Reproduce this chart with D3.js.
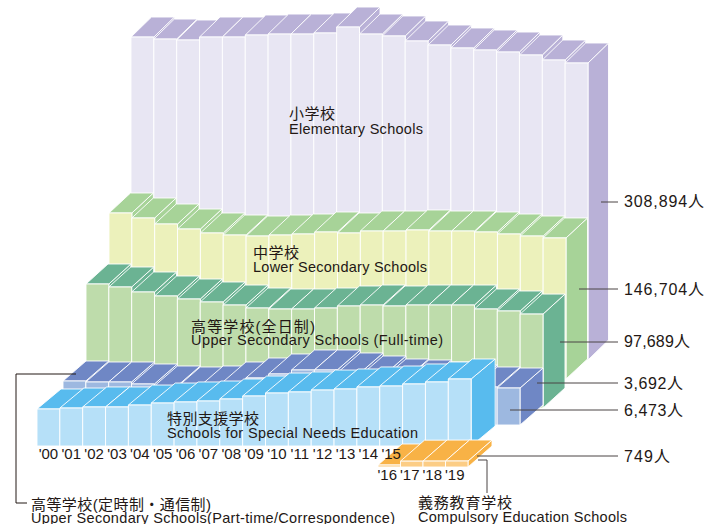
<!DOCTYPE html>
<html lang="ja">
<head>
  <meta charset="UTF-8">
  <title>学校種別の推移</title>
  <style>
    html, body { margin: 0; padding: 0; background: #fff; }
    svg { display: block; }
    text { font-family: "Liberation Sans", "Noto Sans CJK JP", sans-serif; fill: #231815; }
    .tick text { font-family: "Liberation Sans", sans-serif; font-size: 15px; fill: #231815; }
  </style>
</head>
<body>
  <div id="chart"></div>

  <script src="https://d3js.org/d3.v7.min.js"></script>
  <script>
    const years = ['00','01','02','03','04','05','06','07','08','09','10','11','12','13','14','15','16','17','18','19'];
    const yearsLower = ['16','17','18','19'];

    // values, in persons
    const elementary = [335900,333800,332800,335900,335900,338000,339000,339000,340100,346300,339000,337000,331800,327600,324500,322400,320300,317200,312000,308894];
    const lowerSecondary = [172650,167450,161200,156000,151850,149750,148700,149750,150800,152900,151850,153900,153900,155000,153900,153900,152900,150800,148700,146704];
    const upperFullTime = [128970,125850,120650,116500,113350,110250,107100,104000,102950,102950,104000,106100,107100,106100,107100,107100,107100,102950,100900,97689];
    const upperPartTime = [7700,7525,7525,7175,6825,6650,6825,7525,8225,8925,9625,9625,9100,8575,8050,7875,7525,7000,6650,6473];
    const specialNeeds = [38500,39500,40600,40600,42600,44700,45800,46800,48900,52000,55100,56200,58200,59300,61400,62400,64500,66600,69700];
    const compulsory = [250,730,740,749];

    const endLabels = ['308,894人','146,704人','97,689人','3,692人','6,473人','749人'];

    const width = 719;
    const height = 524;
    const step = 22.85;

    const svg = d3.select('#chart').append('svg')
      .attr('width', width)
      .attr('height', height);

    // main layers share one height scale, the two thin ones have their own
    const hMain = d3.scaleLinear().domain([0, 308894]).range([0, 297]);
    const hPart = d3.scaleLinear().domain([0, 6473]).range([0, 37]);
    const hComp = d3.scaleLinear().domain([0, 749]).range([0, 6]);

    const bandFor = (keys, x0, w) => d3.scaleBand()
      .domain(keys)
      .range([x0, x0 + keys.length * w]);

    function drawLayer(o) {
      const x = bandFor(o.keys, o.x0, o.step || step);
      const bw = x.bandwidth();
      const rows = o.keys.map((k, i) => ({ k, v: o.values[i] }));
      const g = svg.append('g').attr('stroke', '#fff').attr('stroke-width', 0.9).attr('stroke-linejoin', 'round');
      const bar = g.selectAll('g').data(rows).join('g');

      bar.append('path')
        .attr('fill', o.dark)
        .attr('d', d => {
          const l = x(d.k), t = o.base - o.h(d.v);
          return `M${l + bw},${t}L${l + bw + o.dx},${t - o.dy}L${l + bw + o.dx},${o.base - o.dy}L${l + bw},${o.base}Z`;
        });
      bar.append('path')
        .attr('fill', o.dark)
        .attr('d', d => {
          const l = x(d.k), t = o.base - o.h(d.v);
          return `M${l},${t}L${l + o.dx},${t - o.dy}L${l + bw + o.dx},${t - o.dy}L${l + bw},${t}Z`;
        });
      bar.append('rect')
        .attr('fill', o.light)
        .attr('x', d => x(d.k))
        .attr('y', d => o.base - o.h(d.v))
        .attr('width', bw)
        .attr('height', d => o.h(d.v));
      return x;
    }

    drawLayer({ keys: years, values: elementary, x0: 131, base: 360, dx: 20.5, dy: 20, h: hMain, light: '#e8e6f3', dark: '#b9b1d7' });
    drawLayer({ keys: years, values: lowerSecondary, x0: 109, base: 379, dx: 21.5, dy: 20, h: hMain, light: '#ecf1bb', dark: '#a7d398' });
    drawLayer({ keys: years, values: upperFullTime, x0: 86, base: 408, dx: 22, dy: 20, h: hMain, light: '#bedcab', dark: '#6bb393' });
    drawLayer({ keys: years, values: upperPartTime, x0: 63, base: 425, dx: 23, dy: 20, h: hPart, light: '#9db8e0', dark: '#6f87c5' });
    drawLayer({ keys: years.slice(0, 19), values: specialNeeds, x0: 37, base: 446, dx: 24, dy: 20, h: hMain, light: '#b6e0f8', dark: '#58bbee' });
    const xComp = drawLayer({ keys: yearsLower, values: compulsory, x0: 378, step: 22.5, base: 467, dx: 24, dy: 21, h: hComp, light: '#fccd85', dark: '#f8b246' });

    // year labels
    const axisFmt = d => "'" + d;
    const axisUpper = d3.scaleBand().domain(years.slice(0, 16)).range([37, 37 + 16 * step]);
    svg.append('g')
      .attr('transform', 'translate(0,446)')
      .call(d3.axisBottom(axisUpper).tickSize(0).tickPadding(2).tickFormat(axisFmt))
      .call(g => g.select('.domain').remove());
    svg.append('g')
      .attr('transform', 'translate(-2,468)')
      .call(d3.axisBottom(xComp).tickSize(0).tickPadding(1).tickFormat(axisFmt))
      .call(g => g.select('.domain').remove());

    // series names: [text, x, baseline, size, width]
    const names = [
      ['小学校', 289, 119, 15, 46],
      ['Elementary Schools', 289, 134, 14.5, 134],
      ['中学校', 253, 258, 15, 46],
      ['Lower Secondary Schools', 253, 272, 14.5, 174],
      ['高等学校(全日制)', 191, 332, 15, 124],
      ['Upper Secondary Schools (Full-time)', 191, 345, 14.5, 252],
      ['特別支援学校', 167, 424, 15, 92],
      ['Schools for Special Needs Education', 167, 438, 14.5, 251],
      ['高等学校(定時制・通信制)', 31, 510, 15, 180],
      ['Upper Secondary Schools(Part-time/Correspondence)', 31, 523, 14.5, 364],
      ['義務教育学校', 418, 508, 15, 94],
      ['Compulsory Education Schools', 418, 522, 14.5, 209]
    ];
    svg.append('g').selectAll('text').data(names).join('text')
      .attr('x', d => d[1])
      .attr('y', d => d[2])
      .attr('font-size', d => d[3])
      .attr('textLength', d => d[4])
      .attr('lengthAdjust', 'spacing')
      .text(d => d[0]);

    // end value labels with their leader lines
    const labelY = [207, 295, 347, 389, 416, 462];
    const labelW = [80, 80, 66, 59, 59, 46];
    const lineY = [202, 289, 342, 383, 410, 456];
    const lineX = [601, 579, 560, 537, 510, 477];
    svg.append('g').selectAll('line').data(lineY).join('line')
      .attr('x1', (d, i) => lineX[i])
      .attr('x2', 618)
      .attr('y1', d => d)
      .attr('y2', d => d)
      .attr('stroke', '#4a4444')
      .attr('stroke-width', 1);
    svg.append('g').selectAll('text').data(endLabels).join('text')
      .attr('x', 624)
      .attr('y', (d, i) => labelY[i])
      .attr('font-size', 16)
      .attr('textLength', (d, i) => labelW[i])
      .attr('lengthAdjust', 'spacing')
      .text(d => d);

    const elbow = d3.line();
    svg.append('path')
      .attr('d', elbow([[76, 374], [16, 374], [16, 503], [27, 503]]))
      .attr('fill', 'none')
      .attr('stroke', '#231815');
    svg.append('path')
      .attr('d', elbow([[478, 460], [487, 460], [487, 493]]))
      .attr('fill', 'none')
      .attr('stroke', '#4a4444');
  </script>
</body>
</html>
